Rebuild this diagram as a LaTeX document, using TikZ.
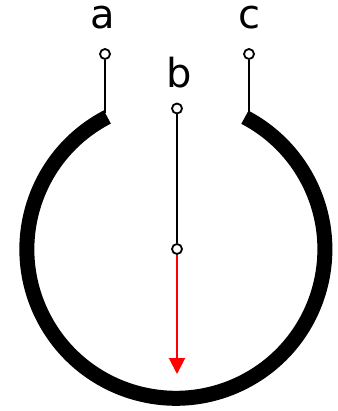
\documentclass[tikz,border=0pt]{standalone}
\usepackage{fontspec}
\setmainfont{DejaVu Sans}
\usetikzlibrary{arrows.meta}
\tikzset{
  terminal/.style={circle, fill=white, inner sep=0pt, minimum size=10pt, line width=1.8pt, draw},
  letter/.style={font=\fontsize{40}{48}\selectfont, anchor=base, inner sep=0pt},
  wire/.style={line width=1.8pt}
}
\begin{document}
\begin{tikzpicture}[x=1pt,y=-1pt]
        \useasboundingbox (0,0) rectangle (337,411);
        \draw [line width=15pt] (107.3,117) coordinate (endA) arc [start angle=242.6, end angle=-62.4, radius=149] coordinate (endC);
        \coordinate (wireA) at (105,113);
        \coordinate (wireC) at (249,113);
        \coordinate (tip) at (177,374);
        \node [terminal] (a) at (105,54) {};
        \node [terminal] (b) at (177,108.5) {};
        \node [terminal] (c) at (249,54) {};
        \node [terminal] (m) at (177,249) {};
        \draw [wire] (a) -- (wireA);
        \draw [wire] (c) -- (wireC);
        \draw [wire] (b) -- (m);
        \draw [line width=2pt, red, -{Triangle[length=16pt,width=16pt]}] (m) -- (tip);
        \node [letter] (la) at (102.5,29) {a};
        \node [letter] (lb) at (179,88) {b};
        \node [letter] (lc) at (249,29) {c};
\end{tikzpicture}
\end{document}
